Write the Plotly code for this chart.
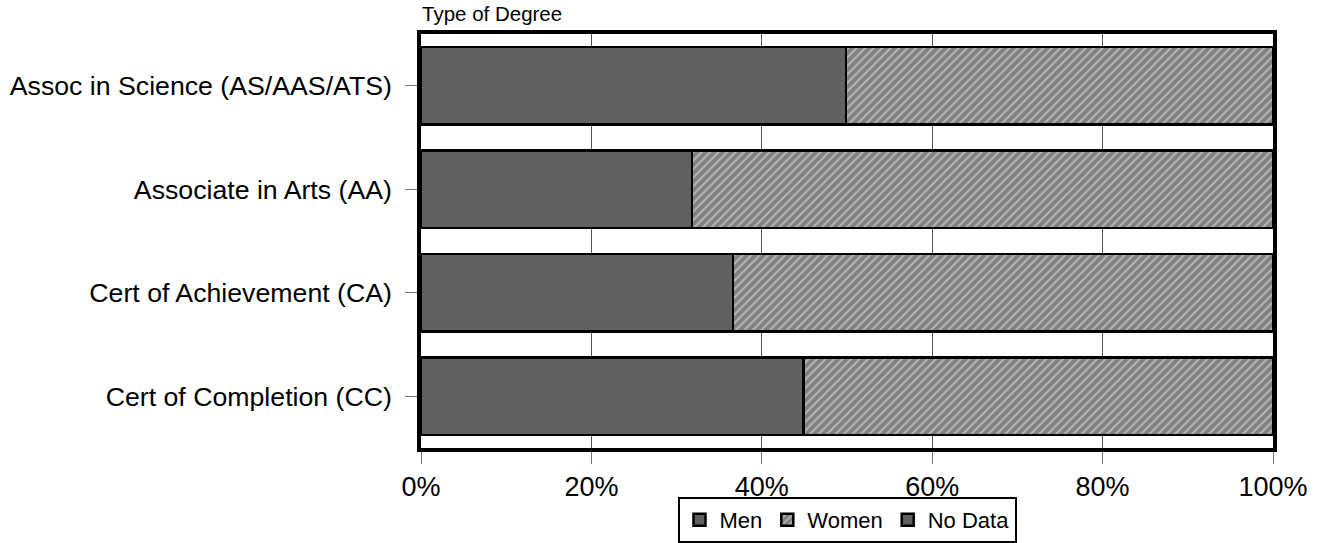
import plotly.graph_objects as go

categories = ["Assoc in Science (AS/AAS/ATS)", "Associate in Arts (AA)",
              "Cert of Achievement (CA)", "Cert of Completion (CC)"]
men = [49.9, 31.8, 36.6, 44.9]
women = [50.1, 68.2, 63.4, 55.1]
no_data = [0, 0, 0, 0]
tick_vals = [0, 20, 40, 60, 80, 100]
tick_text = ["0%", "20%", "40%", "60%", "80%", "100%"]

FONT = "Liberation Sans, Arial, sans-serif"

fig = go.Figure()
fig.add_trace(go.Bar(
    y=categories, x=men, name="Men", orientation="h",
    marker=dict(color="#606060", line=dict(color="black", width=2.5)),
))
fig.add_trace(go.Bar(
    y=categories, x=women, name="Women", orientation="h",
    marker=dict(color="#828282", line=dict(color="black", width=2.5),
                pattern=dict(shape="/", bgcolor="#808080", fgcolor="#ececec",
                             size=6, solidity=0.35)),
))
fig.add_trace(go.Bar(
    y=categories, x=no_data, name="No Data", orientation="h",
    marker=dict(color="#606060", line=dict(color="black", width=2.5)),
))

fig.update_layout(
    barmode="stack",
    bargap=0.25,
    width=1320, height=543,
    margin=dict(l=421, r=47, t=34, b=95, autoexpand=False),
    paper_bgcolor="white", plot_bgcolor="white",
    font=dict(family=FONT, size=27, color="black"),
    showlegend=True,
    legend=dict(orientation="h", x=0.5, xanchor="center",
                yref="container", y=0.0, yanchor="bottom",
                bordercolor="black", borderwidth=2, font=dict(size=22),
                traceorder="normal", tracegroupgap=0),
    annotations=[dict(text="Type of Degree", xref="paper", yref="paper",
                      x=0, y=1.0, xanchor="left", yanchor="bottom", yshift=8,
                      borderpad=0,
                      showarrow=False, font=dict(size=20.5, family=FONT))],
)
fig.update_xaxes(range=[0, 100], tickvals=tick_vals, ticktext=tick_text,
                 showgrid=True, gridcolor="#555555", gridwidth=1,
                 showline=True, linecolor="black", linewidth=3.5, mirror=True,
                 ticks="outside", ticklen=12, tickcolor="#777777", tickwidth=1,
                 tickfont=dict(size=27), zeroline=False, fixedrange=True,
                 automargin=False)
fig.update_yaxes(autorange="reversed", showgrid=False,
                 showline=True, linecolor="black", linewidth=3.5, mirror=True,
                 ticks="outside", ticklen=12, tickcolor="#777777", tickwidth=1,
                 ticklabelstandoff=8,
                 tickfont=dict(size=26.7), fixedrange=True, automargin=False)

fig.write_html("out.html", config={"displayModeBar": False},
               post_script="document.body.style.margin='0';document.body.style.overflow='hidden';")
